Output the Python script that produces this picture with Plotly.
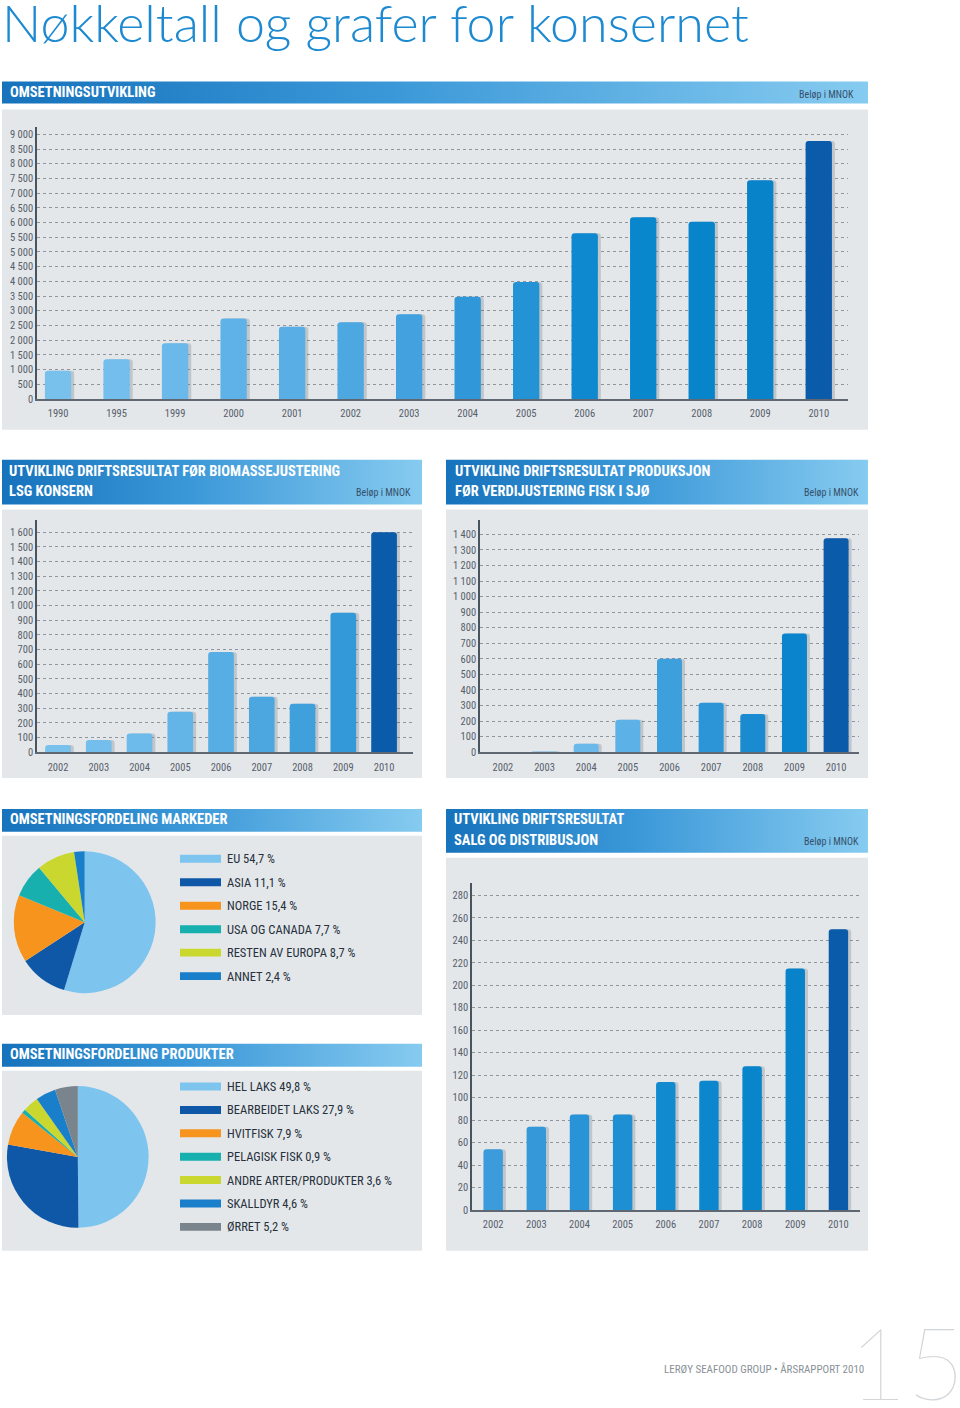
import plotly.graph_objects as go

# ---------------- data ----------------
years_rev = ["1990", "1995", "1999", "2000", "2001", "2002", "2003", "2004",
             "2005", "2006", "2007", "2008", "2009", "2010"]
revenue = [960, 1350, 1900, 2740, 2460, 2610, 2880, 3480, 3980, 5640, 6180, 6030, 7440, 8770]

years_02 = ["2002", "2003", "2004", "2005", "2006", "2007", "2008", "2009", "2010"]
# values on the drawn (evenly spaced) axis of the LSG chart
ebit_lsg = [50, 84, 127, 277, 683, 379, 331, 952, 1500]
lsg_tick_labels = ["0", "100", "200", "300", "400", "500", "600", "700", "800", "900",
                   "1\u00a0000", "1\u00a0200", "1\u00a0300", "1\u00a0400", "1\u00a0500", "1\u00a0600"]
ebit_prod = [0, 4, 55, 209, 601, 318, 245, 763, 1375]
ebit_sales = [54, 74, 85, 85, 114, 115, 128, 215, 250]

market_labels = ["EU", "ASIA", "NORGE", "USA OG CANADA", "RESTEN AV EUROPA", "ANNET"]
market_share = [54.7, 11.1, 15.4, 7.7, 8.7, 2.4]
product_labels = ["HEL LAKS", "BEARBEIDET LAKS", "HVITFISK", "PELAGISK FISK",
                  "ANDRE ARTER/PRODUKTER", "SKALLDYR", "ØRRET"]
product_share = [49.8, 27.9, 7.9, 0.9, 3.6, 4.6, 5.2]

# ---------------- styles ----------------
W, H = 960, 1408
COND = "Roboto Condensed, Liberation Sans Narrow, DejaVu Sans Condensed, Roboto, sans-serif"
PANEL = "#E4E7EA"
GRID = "#8E959C"
TICKC = "#56606B"
DARK = "#0A5BA9"

col_rev = ["#78C1ED", "#73BEEC", "#6BB9EA", "#5FB2E7", "#59AEE5", "#4DA7E1", "#42A1DE",
           "#3098D9", "#2493D5", "#0E89CF", "#0887CD", "#0884CB", "#0883CA", DARK]
col_lsg = ["#78C1ED", "#73BEEC", "#6DBBEA", "#63B5E8", "#57AEE4", "#4CA7E0", "#40A0DC", "#3399D8", DARK]
col_prod = ["#78C1ED", "#72BDEB", "#6BB9EA", "#5CB1E6", "#3D9FDC", "#2C95D7", "#1A8BD1", "#0A84CC", DARK]
col_sales = ["#3C9CDB", "#3498D9", "#2893D6", "#1F8FD3", "#118ACF", "#0C87CD", "#0985CC", "#0883CA", DARK]
col_market = ["#7DC5EF", "#0F58A8", "#F7941D", "#17B0AE", "#C9D72F", "#1A7FCA"]
col_product = ["#7DC5EF", "#0F58A8", "#F7941D", "#17B0AE", "#C9D72F", "#1A7FCA", "#7A848C"]


def fx(x):
    return x / W


def fy(y):
    return 1 - y / H


fig = go.Figure()

# background axis in page pixels (for gradient header bars)
fig.update_layout(
    xaxis=dict(domain=[0, 1], range=[0, W], visible=False, fixedrange=True),
    yaxis=dict(domain=[0, 1], range=[H, 0], visible=False, fixedrange=True),
)

shapes = []
annotations = []

# gray panels
for (x0, y0, x1, y1) in [(2, 110, 868, 432), (2, 512, 422, 782), (446, 512, 868, 782),
                         (2, 840, 422, 1020), (446, 862, 868, 1257), (2, 1076, 422, 1257)]:
    shapes.append(dict(type="rect", xref="paper", yref="paper", x0=fx(x0), x1=fx(x1),
                       y0=fy(y1), y1=fy(y0), fillcolor=PANEL, line_width=0, layer="below"))

# gradient header bars
headers = [(2, 82, 868, 104), (2, 462, 422, 507), (446, 462, 868, 507),
           (2, 813, 422, 836), (446, 813, 868, 857), (2, 1049, 422, 1072)]
for (x0, y0, x1, y1) in headers:
    fig.add_trace(go.Scatter(
        x=[x0, x1, x1, x0, x0], y=[y0, y0, y1, y1, y0], xaxis="x", yaxis="y",
        mode="lines", line=dict(width=0), fill="toself",
        fillgradient=dict(type="horizontal",
                          colorscale=[[0, "#1673BC"], [0.45, "#3B98D8"], [1, "#86CBF0"]]),
        hoverinfo="skip", showlegend=False))


def header_text(x, y, text, size=14.5):
    annotations.append(dict(xref="paper", yref="paper", x=fx(x), y=fy(y), text=text,
                            showarrow=False, xanchor="left", yanchor="middle",
                            font=dict(family=COND, size=size, color="white", weight="bold")))


def belop(xr, y):
    annotations.append(dict(xref="paper", yref="paper", x=fx(xr), y=fy(y), text="Beløp i MNOK",
                            showarrow=False, xanchor="right", yanchor="middle",
                            font=dict(family=COND, size=10, color="#35506B")))


header_text(8, 93, "OMSETNINGSUTVIKLING")
belop(856, 95)
header_text(7, 474, "UTVIKLING DRIFTSRESULTAT FØR BIOMASSEJUSTERING")
header_text(7, 494, "LSG KONSERN")
belop(413, 495)
header_text(453, 474, "UTVIKLING DRIFTSRESULTAT PRODUKSJON")
header_text(453, 494, "FØR VERDIJUSTERING FISK I SJØ")
belop(861, 495)
header_text(8, 824, "OMSETNINGSFORDELING MARKEDER")
header_text(452, 824, "UTVIKLING DRIFTSRESULTAT")
header_text(452, 845, "SALG OG DISTRIBUSJON")
belop(861, 846)
header_text(8, 1060, "OMSETNINGSFORDELING PRODUKTER")


# ---------------- bar charts ----------------
def fmt(v):
    s = f"{v:,}".replace(",", "\u00a0")
    return s


def bar_chart(n, cats, vals, colors, xpx, ypx, xrange, ytop, tickvals, ticktext, wfrac):
    xa, ya = f"x{n}", f"y{n}"
    ppc = (xpx[1] - xpx[0]) / (xrange[1] - xrange[0])
    d = 3.0 / ppc
    fig.add_trace(go.Bar(x=cats, y=vals, xaxis=xa, yaxis=ya, width=[wfrac] * len(cats),
                         offset=[-wfrac / 2 + d] * len(cats),
                         marker=dict(color="rgba(70,80,90,0.22)", line_width=0),
                         hoverinfo="skip", showlegend=False))
    fig.add_trace(go.Bar(x=cats, y=vals, xaxis=xa, yaxis=ya, width=[wfrac] * len(cats),
                         offset=[-wfrac / 2] * len(cats),
                         marker=dict(color=colors, line_width=0), showlegend=False))
    fig.layout[f"xaxis{n}"] = dict(
        domain=[fx(xpx[0]), fx(xpx[1])], anchor=ya, type="category", range=xrange,
        showgrid=False, showline=True, linecolor="#5F6872", linewidth=1.5, ticks="",
        ticklabelstandoff=4,
        tickfont=dict(family=COND, size=10.5, color=TICKC), fixedrange=True)
    fig.layout[f"yaxis{n}"] = dict(
        domain=[fy(ypx[1]), fy(ypx[0])], anchor=xa, range=[0, ytop],
        tickvals=tickvals, ticktext=ticktext, showgrid=True, gridcolor=GRID,
        griddash="dot", gridwidth=1, zeroline=False, showline=True, linecolor="#4A545E",
        linewidth=1.5, ticks="", ticklabelstandoff=0,
        tickfont=dict(family=COND, size=10.5, color=TICKC), fixedrange=True)


rev_ticks = list(range(0, 9001, 500))
bar_chart(2, years_rev, revenue, col_rev, (37, 848), (128, 401), [-0.36, 13.5],
          9000 * 273 / 266, rev_ticks, [fmt(v) for v in rev_ticks], 0.45)

lsg_ticks = list(range(0, 1501, 100))
bar_chart(3, years_02, ebit_lsg, col_lsg, (37, 413), (523, 756), [-0.515, 8.71],
          1500 * 233 / 221, lsg_ticks, lsg_tick_labels, 0.63)

prod_ticks = list(range(0, 1401, 100))
bar_chart(4, years_02, ebit_prod, col_prod, (480, 859), (523, 756), [-0.55, 8.55],
          1400 * 233 / 219, prod_ticks, [fmt(v) for v in prod_ticks], 0.6)

sales_ticks = list(range(0, 281, 20))
bar_chart(5, years_02, ebit_sales, col_sales, (472, 860), (887, 1216), [-0.49, 8.5],
          280 * 329.3 / 316.3, sales_ticks, [str(v) for v in sales_ticks], 0.45)


# ---------------- pies ----------------
def pie(labels, vals, colors, cx, cy, r, leg_y0, leg_dy):
    fig.add_trace(go.Pie(labels=labels, values=vals, sort=False, direction="clockwise",
                         rotation=0, textinfo="none", hoverinfo="label+percent",
                         marker=dict(colors=colors, line=dict(width=0)), showlegend=False,
                         domain=dict(x=[fx(cx - r), fx(cx + r)], y=[fy(cy + r), fy(cy - r)])))
    for i, (lab, v) in enumerate(zip(labels, vals)):
        yy = leg_y0 + i * leg_dy
        shapes.append(dict(type="rect", xref="paper", yref="paper", x0=fx(180), x1=fx(221),
                           y0=fy(yy + 4), y1=fy(yy - 4), fillcolor=colors[i], line_width=0))
        annotations.append(dict(xref="paper", yref="paper", x=fx(225), y=fy(yy),
                                text=f"{lab} {str(v).replace('.', ',')} %", showarrow=False,
                                xanchor="left", yanchor="middle",
                                font=dict(family=COND, size=12.5, color="#26313C")))


pie(market_labels, market_share, col_market, 84.7, 926.8, 71.3, 863, 23.6)
pie(product_labels, product_share, col_product, 77.8, 1162.7, 71.2, 1092, 23.5)

# ---------------- titles / footer ----------------
annotations.append(dict(xref="paper", yref="paper", x=0, y=fy(22), text="Nøkkeltall og grafer for konsernet",
                        showarrow=False, xanchor="left", yanchor="middle",
                        font=dict(family="Lato, Roboto, sans-serif", size=52, color="#1C89D0", weight=300)))
annotations.append(dict(xref="paper", yref="paper", x=fx(866), y=fy(1376),
                        text="LERØY SEAFOOD GROUP • ÅRSRAPPORT 2010", showarrow=False,
                        xanchor="right", yanchor="middle",
                        font=dict(family=COND, size=11, color="#8A9197")))
annotations.append(dict(xref="paper", yref="paper", x=fx(967), y=fy(1368), text="15",
                        showarrow=False, xanchor="right", yanchor="middle",
                        font=dict(family="Lato, Roboto, sans-serif", size=100, color="#D3D6D9", weight=100)))

fig.update_layout(
    width=W, height=H, margin=dict(l=0, r=0, t=0, b=0),
    paper_bgcolor="white", plot_bgcolor="rgba(0,0,0,0)",
    barmode="overlay", barcornerradius=3,
    shapes=shapes, annotations=annotations, showlegend=False,
)

fig.write_html("out.html")
